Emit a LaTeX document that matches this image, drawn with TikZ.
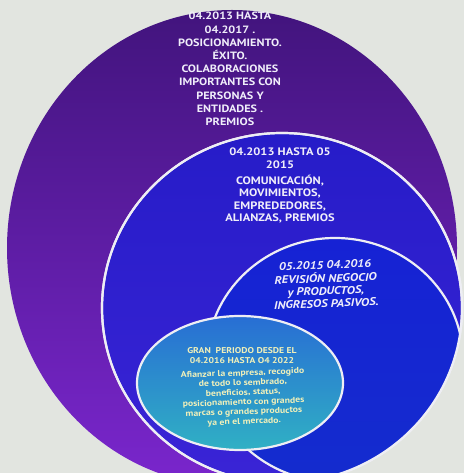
\documentclass[tikz,border=0pt]{standalone}
\usepackage{fontspec}
\setmainfont{PT Sans}[FakeStretch=1.15]
\usepackage{tikz}
\usetikzlibrary{shapes}

\definecolor{fondo}{RGB}{226,229,224}
\definecolor{morado1}{RGB}{66,20,125}
\definecolor{morado2}{RGB}{122,38,205}
\definecolor{azul1}{RGB}{38,28,200}
\definecolor{azul2}{RGB}{58,36,214}
\definecolor{azul3}{RGB}{22,34,212}
\definecolor{azul4}{RGB}{20,44,206}
\definecolor{cian1}{RGB}{40,110,212}
\definecolor{cian2}{RGB}{48,176,196}
\definecolor{anillo}{RGB}{238,238,244}
\definecolor{textoclaro}{RGB}{240,238,250}
\definecolor{textoamarillo}{RGB}{240,240,186}

\begin{document}
\begin{tikzpicture}[x=1pt, y=1pt, node distance=40pt,
    main/.style={text=textoclaro, inner sep=0pt, font=\bfseries},
    ring/.style={draw=anillo, line width=2.2pt}]
        \useasboundingbox (0,0) rectangle (464,473);
        \clip (0,0) rectangle (464,473);
        \fill[fondo] (0,0) rectangle (464,473);
        % circulos
        \shade[top color=morado1, bottom color=morado2] (232,225) ellipse [x radius=225, y radius=238];
        \shadedraw[top color=azul1, bottom color=azul2, ring] (282,165) ellipse [x radius=180, y radius=175];
        \begin{scope}
            \clip (282,165) ellipse [x radius=180, y radius=175];
            \shadedraw[top color=azul3, bottom color=azul4, ring] (335,113) ellipse [x radius=128, y radius=122];
        \end{scope}
        \draw[ring] (282,165) ellipse [x radius=180, y radius=175];
        \shadedraw[top color=cian1, bottom color=cian2, ring] (240,90) ellipse [x radius=103, y radius=67];
        % textos
        \node[main] (1) at (230,403) {\fontsize{10.6}{13.2}\selectfont\begin{tabular}{c}04.2013 HASTA \\ 04.2017 . \\ POSICIONAMIENTO. \\ ÉXITO. \\ COLABORACIONES \\ IMPORTANTES CON \\ PERSONAS Y \\ ENTIDADES . \\ PREMIOS\end{tabular}};
        \node[main] (2) at (280,314) {\fontsize{10.8}{13}\selectfont\begin{tabular}{c}04.2013 HASTA 05 \\ 2015\end{tabular}};
        \node[main] (3) [below of=2, node distance=41pt] {\fontsize{10.8}{12.4}\selectfont\begin{tabular}{c}COMUNICACIÓN, \\ MOVIMIENTOS, \\ EMPREDEDORES, \\ ALIANZAS,\ PREMIOS\end{tabular}};
        \node[main, rotate=2] (4) at (325,208) {\fontsize{11}{12.5}\selectfont\itshape 05.2015 04.2016};
        \node[main, rotate=2] (5) [below of=4, node distance=27pt] {\fontsize{11}{12.5}\selectfont\itshape\begin{tabular}{c}REVISIÓN NEGOCIO \\ y PRODUCTOS, \\ INGRESOS PASIVOS.\end{tabular}};
        \node[main, text=textoamarillo] (6) at (242,116) {\fontsize{8.4}{10}\selectfont\begin{tabular}{c}GRAN\ \ PERIODO DESDE EL \\ 04.2016 HASTA O4 2022\end{tabular}};
        \node[main, text=textoamarillo, rotate=2] (7) [below of=6, node distance=41pt] {\fontsize{8.5}{9.7}\selectfont\begin{tabular}{c}Afianzar la empresa, recogido \\ de todo lo sembrado, \\ beneficios, status, \\ posicionamiento con grandes \\ marcas o grandes productos \\ ya en el mercado.\end{tabular}};
    \end{tikzpicture}
\end{document}
